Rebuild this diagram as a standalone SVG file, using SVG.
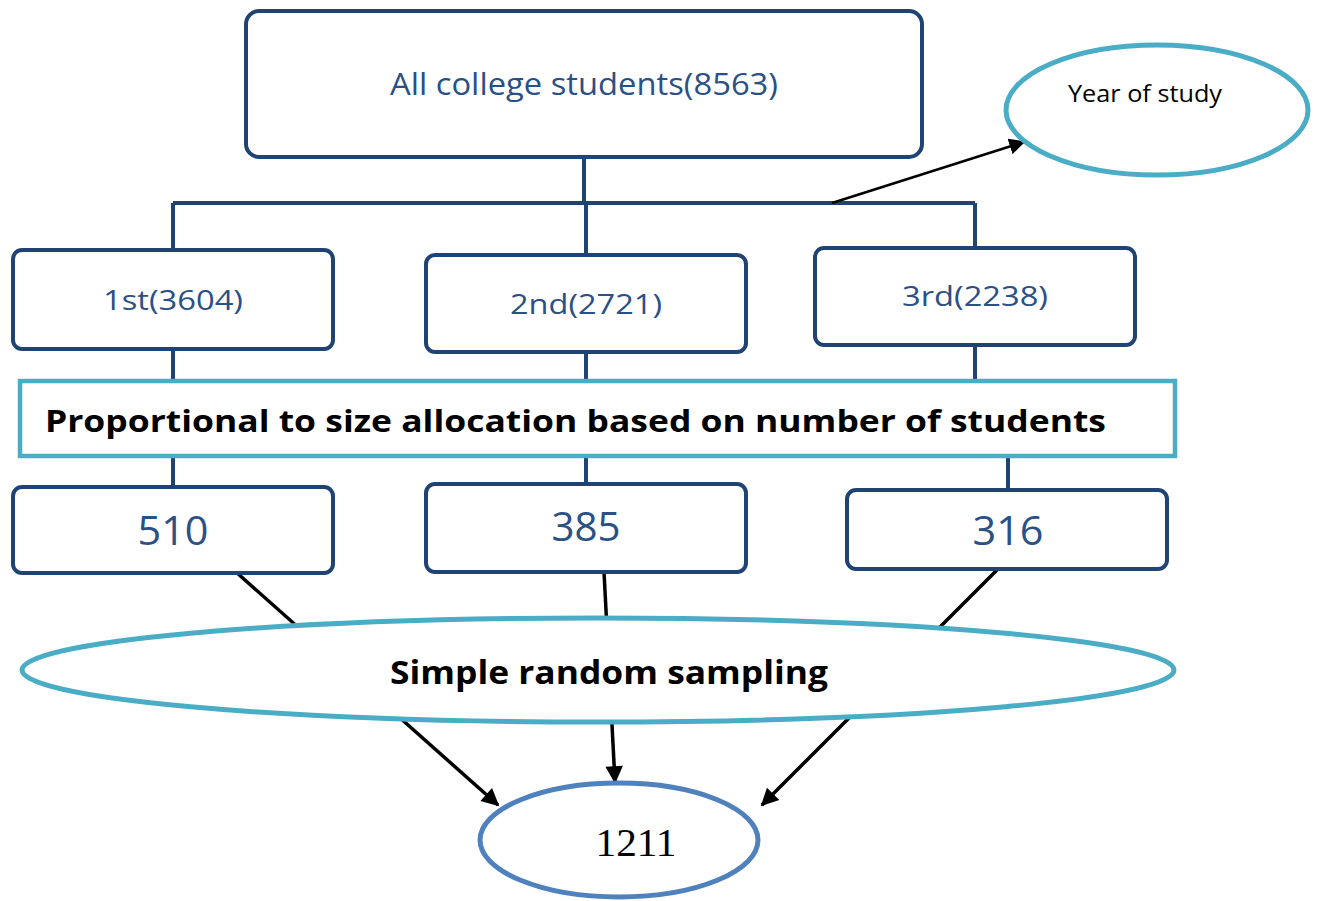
<svg xmlns="http://www.w3.org/2000/svg" width="1318" height="901" viewBox="0 0 1318 901">
<style>
.box{fill:#fff;stroke:#1f4474;stroke-width:4}
.tl{fill:none;stroke:#1f4474;stroke-width:4}
.teal{fill:#fff;stroke:#4bacc6;stroke-width:5}
.blk{fill:none;stroke:#000;stroke-width:3.5}
.t{font-family:"Open Sans","Noto Sans",sans-serif;fill:#2a5085;text-anchor:middle}
.b{font-family:"Open Sans","Noto Sans",sans-serif;font-weight:bold;fill:#000;text-anchor:middle}
</style>
<defs>
<marker id="ah" viewBox="0 0 10 10" refX="9" refY="5" markerWidth="5.5" markerHeight="5" orient="auto" markerUnits="strokeWidth">
<path d="M0,0 L10,5 L0,10 z" fill="#000"/>
</marker>
<marker id="ah2" viewBox="0 0 10 10" refX="9" refY="5" markerWidth="6.5" markerHeight="6.5" orient="auto" markerUnits="strokeWidth">
<path d="M0,0 L10,5 L0,10 z" fill="#000"/>
</marker>
</defs>
<g id="connectors">
<path class="tl" d="M584,157 V203 M173,203 H975 M173,203 V250 M586,203 V255 M975,203 V248"/>
<path class="tl" d="M173,349 V381 M586,352 V381 M975,345 V381"/>
<path class="tl" d="M173,456 V487 M586,456 V484 M1008,456 V490"/>
<line x1="832" y1="203" x2="1024" y2="142" stroke="#000" stroke-width="2.5" marker-end="url(#ah2)"/>
<line class="blk" x1="236" y1="572" x2="498" y2="805" marker-end="url(#ah)"/>
<line class="blk" x1="604" y1="572" x2="615" y2="782" marker-end="url(#ah)"/>
<line class="blk" x1="1004" y1="563" x2="762" y2="805" marker-end="url(#ah)"/>
</g>
<g id="all">
<rect class="box" x="246" y="11" width="676" height="146" rx="13"/>
<text class="t" x="584" y="95" font-size="31" textLength="388" lengthAdjust="spacingAndGlyphs">All college students(8563)</text>
</g>
<g id="year">
<ellipse class="teal" cx="1157" cy="110" rx="151" ry="65"/>
<text x="1145" y="102" font-family="'Open Sans','Noto Sans',sans-serif" font-size="23" text-anchor="middle" fill="#000" textLength="154" lengthAdjust="spacingAndGlyphs">Year of study</text>
</g>
<g id="first">
<rect class="box" x="13" y="250" width="320" height="99" rx="9"/>
<text class="t" x="173" y="310" font-size="28" textLength="140" lengthAdjust="spacingAndGlyphs">1st(3604)</text>
</g>
<g id="second">
<rect class="box" x="426" y="255" width="320" height="97" rx="9"/>
<text class="t" x="586" y="314" font-size="28" textLength="152" lengthAdjust="spacingAndGlyphs">2nd(2721)</text>
</g>
<g id="third">
<rect class="box" x="815" y="248" width="320" height="97" rx="9"/>
<text class="t" x="975" y="306" font-size="28" textLength="146" lengthAdjust="spacingAndGlyphs">3rd(2238)</text>
</g>
<g id="prop">
<rect x="20" y="381" width="1155" height="75" fill="#fff" stroke="#4bacc6" stroke-width="4.5"/>
<text class="b" x="575.5" y="432" font-size="31" textLength="1061" lengthAdjust="spacingAndGlyphs">Proportional to size allocation based on number of students</text>
</g>
<g id="n510">
<rect class="box" x="13" y="487" width="320" height="86" rx="9"/>
<text class="t" x="173" y="545" font-size="40" textLength="71" lengthAdjust="spacingAndGlyphs">510</text>
</g>
<g id="n385">
<rect class="box" x="426" y="484" width="320" height="88" rx="9"/>
<text class="t" x="586" y="541" font-size="40" textLength="69" lengthAdjust="spacingAndGlyphs">385</text>
</g>
<g id="n316">
<rect class="box" x="847" y="490" width="320" height="79" rx="9"/>
<text class="t" x="1008" y="545" font-size="40" textLength="71" lengthAdjust="spacingAndGlyphs">316</text>
</g>
<g id="srs">
<ellipse class="teal" cx="598" cy="670" rx="576" ry="52"/>
<text class="b" x="609" y="684" font-size="32" textLength="438" lengthAdjust="spacingAndGlyphs">Simple random sampling</text>
</g>
<g id="total">
<ellipse cx="619" cy="840" rx="139" ry="57" fill="#fff" stroke="#4f81bd" stroke-width="5"/>
<text x="636" y="856" font-family="'Liberation Serif',serif" font-size="40" text-anchor="middle" fill="#000" textLength="81" lengthAdjust="spacingAndGlyphs">1211</text>
</g>
</svg>
